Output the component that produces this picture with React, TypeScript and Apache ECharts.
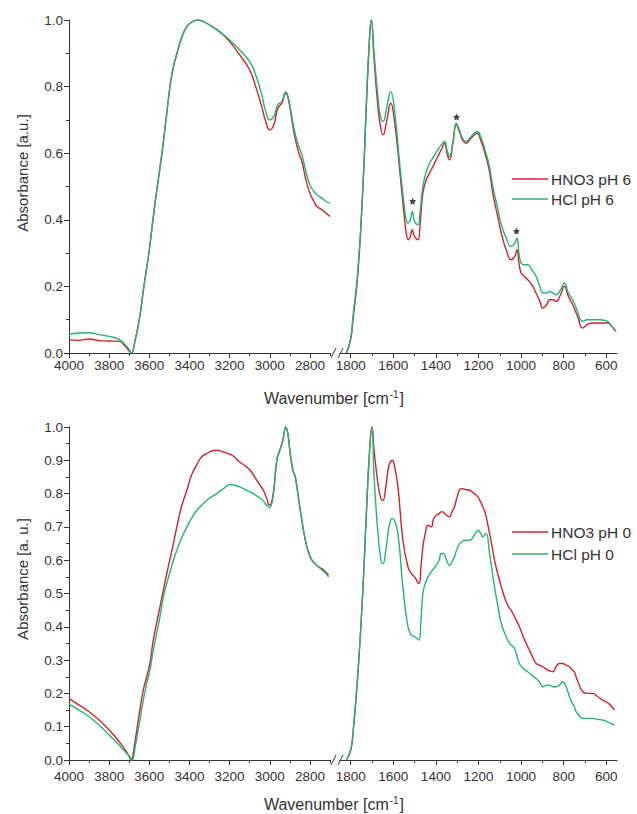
import React, { useEffect, useRef } from 'react';
import * as echarts from 'echarts';

const RED = '#d0232b';
const GREEN = '#22b574';
const AXIS = '#333333';
const FONT = 'Liberation Sans, Arial, sans-serif';

// ---------- Top panel (pH 6) ----------
const tlX = [4000, 3950, 3900, 3850, 3800, 3750, 3720, 3700, 3690, 3670, 3650, 3627, 3600, 3582, 3560, 3537, 3515, 3497, 3480, 3462, 3440, 3413, 3385, 3358, 3330, 3300, 3250, 3200, 3150, 3100, 3070, 3040, 3020, 3000, 2980, 2960, 2940, 2920, 2905, 2890, 2874, 2855, 2840, 2820, 2800, 2780, 2765, 2740, 2720, 2700];
const tlRed = [0.04, 0.038, 0.042, 0.037, 0.036, 0.035, 0.02, 0.006, 0.0, 0.04, 0.1, 0.2, 0.31, 0.4, 0.5, 0.6, 0.71, 0.8, 0.86, 0.9, 0.945, 0.98, 0.995, 1.0, 0.995, 0.985, 0.965, 0.935, 0.895, 0.85, 0.8, 0.74, 0.695, 0.67, 0.685, 0.735, 0.75, 0.78, 0.755, 0.7, 0.645, 0.6, 0.575, 0.52, 0.48, 0.455, 0.44, 0.43, 0.42, 0.41];
const tlGreen = [0.055, 0.06, 0.061, 0.055, 0.05, 0.04, 0.025, 0.01, 0.0, 0.04, 0.1, 0.2, 0.31, 0.4, 0.5, 0.6, 0.71, 0.8, 0.86, 0.9, 0.945, 0.98, 0.995, 1.0, 0.995, 0.985, 0.965, 0.94, 0.91, 0.875, 0.835, 0.775, 0.725, 0.7, 0.71, 0.745, 0.755, 0.785, 0.76, 0.71, 0.66, 0.62, 0.595, 0.545, 0.505, 0.485, 0.475, 0.465, 0.455, 0.45];

const trX = [1820, 1800, 1789, 1766, 1742, 1727, 1714, 1703, 1690, 1672, 1660, 1648, 1630, 1612, 1595, 1570, 1550, 1539, 1530, 1520, 1511, 1500, 1484, 1475, 1461, 1445, 1430, 1410, 1391, 1375, 1359, 1348, 1336, 1320, 1304, 1290, 1275, 1258, 1235, 1206, 1190, 1172, 1150, 1133, 1110, 1093, 1070, 1047, 1030, 1020, 1010, 1000, 985, 969, 950, 930, 912, 898, 880, 867, 850, 836, 815, 797, 778, 758, 735, 711, 690, 664, 630, 594, 575, 555];
const trRed = [0, 0.04, 0.1, 0.24, 0.5, 0.73, 0.91, 1.0, 0.88, 0.74, 0.68, 0.655, 0.7, 0.75, 0.7, 0.55, 0.42, 0.36, 0.34, 0.35, 0.37, 0.35, 0.34, 0.38, 0.48, 0.52, 0.54, 0.565, 0.59, 0.61, 0.63, 0.6, 0.58, 0.63, 0.685, 0.665, 0.64, 0.63, 0.645, 0.66, 0.64, 0.605, 0.55, 0.48, 0.41, 0.36, 0.31, 0.28, 0.29, 0.31, 0.27, 0.24, 0.23, 0.22, 0.205, 0.18, 0.155, 0.135, 0.145, 0.16, 0.16, 0.155, 0.175, 0.2, 0.17, 0.145, 0.11, 0.075, 0.085, 0.09, 0.09, 0.09, 0.08, 0.065];
const trGreen = [0, 0.045, 0.11, 0.25, 0.51, 0.74, 0.92, 1.0, 0.9, 0.77, 0.71, 0.695, 0.74, 0.785, 0.735, 0.57, 0.45, 0.4, 0.39, 0.4, 0.425, 0.395, 0.385, 0.42, 0.5, 0.545, 0.57, 0.59, 0.61, 0.625, 0.635, 0.61, 0.59, 0.635, 0.69, 0.67, 0.645, 0.635, 0.65, 0.665, 0.65, 0.615, 0.565, 0.5, 0.435, 0.385, 0.345, 0.32, 0.33, 0.345, 0.3, 0.27, 0.265, 0.265, 0.25, 0.23, 0.2, 0.18, 0.18, 0.185, 0.18, 0.175, 0.19, 0.21, 0.18, 0.16, 0.125, 0.095, 0.1, 0.1, 0.1, 0.095, 0.08, 0.065];

const starPoints = [[1509, 0.456], [1303, 0.709], [1022, 0.366]];

// ---------- Bottom panel (pH 0) ----------
const blX = [4000, 3950, 3900, 3850, 3800, 3750, 3720, 3700, 3690, 3685, 3670, 3647, 3630, 3613, 3597, 3580, 3547, 3530, 3513, 3480, 3463, 3440, 3413, 3390, 3363, 3340, 3314, 3290, 3264, 3230, 3198, 3180, 3150, 3115, 3098, 3070, 3048, 3032, 3015, 3002, 2985, 2965, 2950, 2935, 2920, 2910, 2900, 2885, 2873, 2860, 2848, 2823, 2805, 2790, 2775, 2757, 2730, 2707];
const blRed = [0.185, 0.165, 0.145, 0.12, 0.09, 0.055, 0.03, 0.01, 0.0, 0.003, 0.06, 0.15, 0.21, 0.25, 0.29, 0.36, 0.46, 0.51, 0.56, 0.65, 0.7, 0.76, 0.81, 0.855, 0.887, 0.91, 0.92, 0.928, 0.93, 0.925, 0.918, 0.912, 0.895, 0.88, 0.87, 0.845, 0.825, 0.81, 0.785, 0.765, 0.79, 0.9, 0.93, 0.96, 1.0, 0.98, 0.93, 0.87, 0.85, 0.8, 0.75, 0.66, 0.62, 0.6, 0.59, 0.58, 0.57, 0.555];
const blGreen = [0.168, 0.15, 0.13, 0.105, 0.075, 0.045, 0.025, 0.012, 0.003, 0.0, 0.04, 0.12, 0.18, 0.23, 0.27, 0.33, 0.43, 0.49, 0.53, 0.6, 0.63, 0.665, 0.7, 0.725, 0.75, 0.765, 0.78, 0.79, 0.8, 0.815, 0.827, 0.826, 0.82, 0.81, 0.805, 0.795, 0.786, 0.778, 0.765, 0.758, 0.785, 0.9, 0.93, 0.96, 1.0, 0.98, 0.93, 0.87, 0.85, 0.8, 0.75, 0.66, 0.62, 0.6, 0.59, 0.58, 0.565, 0.55];

const brX = [1820, 1800, 1789, 1766, 1742, 1727, 1711, 1700, 1690, 1672, 1660, 1652, 1648, 1635, 1625, 1617, 1605, 1595, 1578, 1555, 1531, 1515, 1500, 1480, 1470, 1461, 1450, 1437, 1422, 1410, 1398, 1385, 1375, 1367, 1359, 1350, 1336, 1325, 1313, 1300, 1281, 1260, 1242, 1220, 1203, 1190, 1180, 1172, 1164, 1148, 1133, 1125, 1110, 1093, 1070, 1054, 1047, 1031, 1008, 990, 969, 950, 930, 915, 898, 880, 867, 851, 836, 820, 805, 789, 773, 760, 750, 742, 730, 711, 690, 664, 640, 617, 590, 562];
const brRed = [0, 0.03, 0.08, 0.26, 0.52, 0.73, 0.93, 1.0, 0.93, 0.83, 0.79, 0.78, 0.78, 0.82, 0.87, 0.89, 0.9, 0.885, 0.82, 0.66, 0.58, 0.56, 0.55, 0.53, 0.58, 0.64, 0.68, 0.705, 0.7, 0.725, 0.735, 0.74, 0.745, 0.745, 0.74, 0.735, 0.73, 0.745, 0.76, 0.79, 0.815, 0.812, 0.81, 0.8, 0.79, 0.775, 0.76, 0.75, 0.73, 0.68, 0.63, 0.6, 0.56, 0.52, 0.475, 0.455, 0.45, 0.43, 0.4, 0.37, 0.34, 0.315, 0.29, 0.285, 0.28, 0.272, 0.268, 0.265, 0.28, 0.29, 0.29, 0.285, 0.28, 0.27, 0.265, 0.25, 0.23, 0.205, 0.2, 0.2, 0.19, 0.18, 0.17, 0.15];
const brGreen = [0, 0.03, 0.08, 0.26, 0.52, 0.73, 0.93, 1.0, 0.85, 0.68, 0.61, 0.59, 0.59, 0.63, 0.68, 0.71, 0.725, 0.72, 0.68, 0.52, 0.4, 0.375, 0.37, 0.36, 0.42, 0.5, 0.53, 0.55, 0.565, 0.575, 0.585, 0.6, 0.62, 0.62, 0.615, 0.6, 0.585, 0.595, 0.61, 0.635, 0.655, 0.66, 0.66, 0.675, 0.69, 0.68, 0.67, 0.675, 0.68, 0.62, 0.555, 0.52, 0.465, 0.41, 0.37, 0.35, 0.345, 0.335, 0.29, 0.275, 0.265, 0.255, 0.245, 0.235, 0.22, 0.225, 0.225, 0.22, 0.22, 0.225, 0.235, 0.22, 0.19, 0.17, 0.16, 0.145, 0.135, 0.125, 0.125, 0.125, 0.122, 0.12, 0.113, 0.105];

// ---------- Axis tick values ----------
const leftMajor = [2800, 3000, 3200, 3400, 3600, 3800, 4000];
const leftMinor = [2700, 2900, 3100, 3300, 3500, 3700, 3900];
const rightMajor = [600, 800, 1000, 1200, 1400, 1600, 1800];
const rightMinor = [700, 900, 1100, 1300, 1500, 1700];

const topNames = ['HNO3 pH 6', 'HCl pH 6'];
const bottomNames = ['HNO3 pH 0', 'HCl pH 0'];

const zip = (x: number[], y: number[]) => x.map((v, i) => [v, y[i]]);

const GRID_LEFT_L = 69;
const GRID_LEFT_W = 261;
const GRID_RIGHT_L = 340;
const GRID_RIGHT_W = 277;
const GRID_H = 333;
const TOP_Y = [20, 427];

function xAxes(gridIndex: number, min: number, max: number, major: number[], minor: number[], margin: number) {
  return [
    {
      type: 'value', gridIndex, min, max, inverse: true, position: 'bottom',
      axisLine: { show: true, onZero: false, lineStyle: { color: AXIS, width: 1 } },
      axisTick: { show: true, inside: false, length: 5, customValues: major, lineStyle: { color: AXIS } },
      axisLabel: {
        show: true, customValues: major, margin, fontSize: 13.5, color: AXIS, fontFamily: FONT,
        formatter: (v: number) => String(Math.round(v)),
      },
      splitLine: { show: false },
    },
    {
      type: 'value', gridIndex, min, max, inverse: true, position: 'bottom',
      axisLine: { show: false, onZero: false },
      axisTick: { show: true, inside: false, length: 3, customValues: minor, lineStyle: { color: AXIS } },
      axisLabel: { show: false, customValues: minor },
      splitLine: { show: false },
    },
  ];
}

function yAxis(gridIndex: number, interval: number, show: boolean) {
  return {
    type: 'value', gridIndex, min: 0, max: 1, interval, show,
    axisLine: { show: true, lineStyle: { color: AXIS, width: 1 } },
    axisTick: { show: true, inside: false, length: 5, lineStyle: { color: AXIS } },
    minorTick: { show: true, splitNumber: 2, length: 3, lineStyle: { color: AXIS } },
    axisLabel: { margin: 6, fontSize: 13.5, color: AXIS, fontFamily: FONT, formatter: (v: number) => v.toFixed(1) },
    splitLine: { show: false },
  };
}

function line(name: string, color: string, xIdx: number, yIdx: number, x: number[], y: number[]) {
  return {
    type: 'line', name, xAxisIndex: xIdx, yAxisIndex: yIdx,
    data: zip(x, y), symbol: 'none', showSymbol: false,
    smooth: 0.5,
    lineStyle: { color, width: 1.4 }, itemStyle: { color },
  };
}

function breakMarks(y: number) {
  return [
    { type: 'line', shape: { x1: 331, y1: y + 5, x2: 336, y2: y - 5 }, style: { stroke: AXIS, lineWidth: 1 } },
    { type: 'line', shape: { x1: 338, y1: y + 5, x2: 343, y2: y - 5 }, style: { stroke: AXIS, lineWidth: 1 } },
  ];
}

function xTitle(y: number) {
  return {
    type: 'text', x: 334, y,
    style: {
      text: '{a|Wavenumber [cm}{s|-1}{a|]}',
      align: 'center', verticalAlign: 'middle',
      rich: {
        a: { fontSize: 16, fontFamily: FONT, fill: AXIS, lineHeight: 18 },
        s: { fontSize: 10, fontFamily: FONT, fill: AXIS, lineHeight: 18, verticalAlign: 'top', padding: [0, 1, 8, 1] },
      },
    },
  };
}

function yTitle(text: string, y: number) {
  return {
    type: 'text', x: 22, y, rotation: Math.PI / 2,
    style: { text, align: 'center', verticalAlign: 'middle', fontSize: 15, fontFamily: FONT, fill: AXIS },
  };
}

const STAR_PATH = 'path://M0,-10 L2.9,-4 L9.5,-3.1 L4.8,1.5 L5.9,8.1 L0,5 L-5.9,8.1 L-4.8,1.5 L-9.5,-3.1 L-2.9,-4 Z';

function legend(names: string[], top: number, gap: number) {
  return {
    data: names, orient: 'vertical', left: 507, top,
    icon: 'rect', itemWidth: 36, itemHeight: 1.6, itemGap: gap,
    textStyle: { fontSize: 15.5, fontFamily: FONT, color: AXIS, lineHeight: 16, padding: [0, 0, 0, -2] },
  };
}

export default function App() {
  const ref = useRef<HTMLDivElement>(null);
  useEffect(() => {
    document.body.style.margin = '0';
    if (!ref.current) return;
    const chart = echarts.init(ref.current, null, { renderer: 'svg' });
    const option: any = {
      animation: false,
      backgroundColor: '#ffffff',
      grid: [
        { left: GRID_LEFT_L, top: TOP_Y[0], width: GRID_LEFT_W, height: GRID_H },
        { left: GRID_RIGHT_L, top: TOP_Y[0], width: GRID_RIGHT_W, height: GRID_H },
        { left: GRID_LEFT_L, top: TOP_Y[1], width: GRID_LEFT_W, height: GRID_H },
        { left: GRID_RIGHT_L, top: TOP_Y[1], width: GRID_RIGHT_W, height: GRID_H },
      ],
      xAxis: [
        ...xAxes(0, 2700, 4000, leftMajor, leftMinor, 5),
        ...xAxes(1, 550, 1850, rightMajor, rightMinor, 5),
        ...xAxes(2, 2700, 4000, leftMajor, leftMinor, 9),
        ...xAxes(3, 550, 1850, rightMajor, rightMinor, 9),
      ],
      yAxis: [
        yAxis(0, 0.2, true),
        yAxis(1, 0.2, false),
        yAxis(2, 0.1, true),
        yAxis(3, 0.1, false),
      ],
      legend: [legend(topNames, 166, 4), legend(bottomNames, 519, 6)],
      series: [
        line(topNames[0], RED, 0, 0, tlX, tlRed),
        line(topNames[1], GREEN, 0, 0, tlX, tlGreen),
        line(topNames[0], RED, 2, 1, trX, trRed),
        line(topNames[1], GREEN, 2, 1, trX, trGreen),
        line(bottomNames[0], RED, 4, 2, blX, blRed),
        line(bottomNames[1], GREEN, 4, 2, blX, blGreen),
        line(bottomNames[0], RED, 6, 3, brX, brRed),
        line(bottomNames[1], GREEN, 6, 3, brX, brGreen),
        {
          type: 'scatter', xAxisIndex: 2, yAxisIndex: 1,
          data: starPoints, symbol: STAR_PATH, symbolSize: 7,
          itemStyle: { color: '#111111' }, silent: true,
        },
      ],
      graphic: [
        ...breakMarks(353),
        ...breakMarks(760),
        xTitle(398),
        xTitle(804),
        yTitle('Absorbance [a.u.]', 173),
        yTitle('Absorbance [a. u.]', 579),
      ],
    };
    chart.setOption(option);
    return () => chart.dispose();
  }, []);
  return <div ref={ref} style={{ width: 637, height: 814 }} />;
}
